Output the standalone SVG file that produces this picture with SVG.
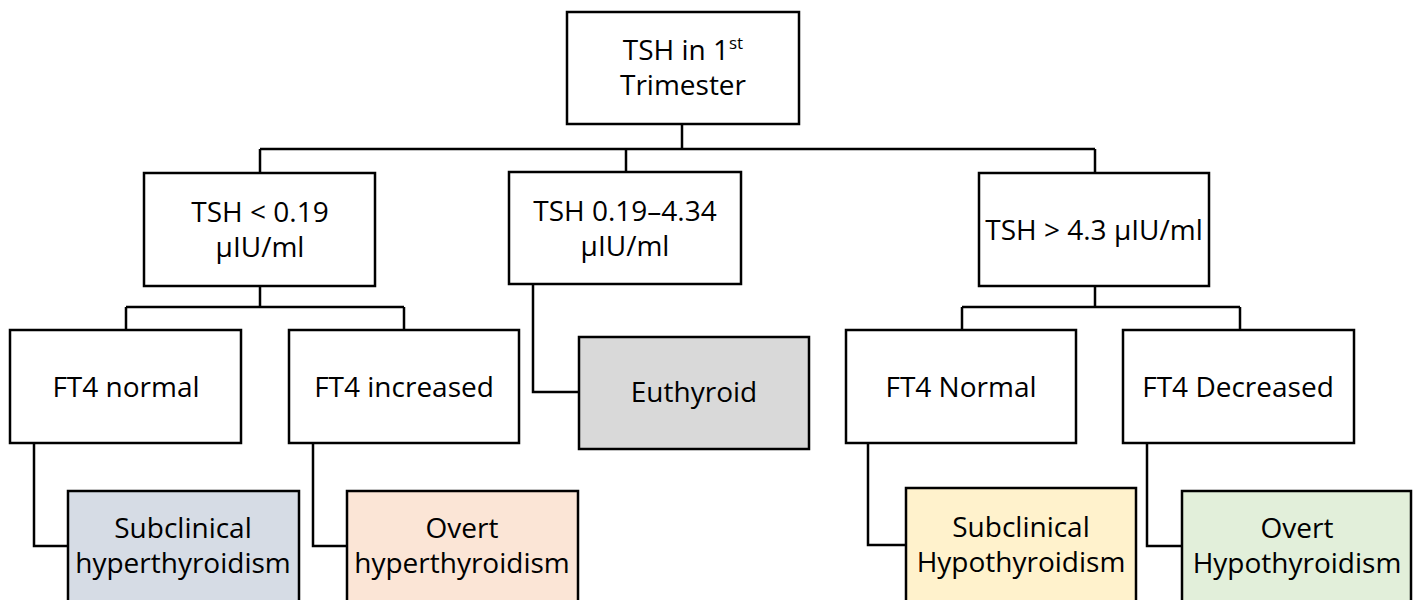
<svg xmlns="http://www.w3.org/2000/svg" width="1416" height="600" viewBox="0 0 1416 600">
<style>
.box{stroke:#000;stroke-width:2.5;fill:#fff}
.t{font-family:"Open Sans","Noto Sans","Liberation Sans",sans-serif;font-size:28px;fill:#000;text-anchor:middle}
.c{stroke:#000;stroke-width:2.5;fill:none}
</style>
<rect width="1416" height="600" fill="#fff"/>
<g id="connectors">
<path class="c" d="M682,124 V149 M260,149 H1095 M260,149 V173 M626,149 V172 M1095,149 V173"/>
<path class="c" d="M260,286 V307 M126,307 H404 M126,307 V330 M404,307 V330"/>
<path class="c" d="M1095,286 V307 M962,307 H1240 M962,307 V330 M1240,307 V330"/>
<path class="c" d="M533,284 V392 H579"/>
<path class="c" d="M34,443 V546 H68"/>
<path class="c" d="M313,443 V546 H347"/>
<path class="c" d="M868,443 V545 H906"/>
<path class="c" d="M1147,443 V546 H1182"/>
</g>
<g id="root"><rect class="box" x="567" y="12" width="232" height="112"/><text class="t" x="683" y="60">TSH in 1<tspan font-size="17" dy="-11">st</tspan></text><text class="t" x="683" y="95">Trimester</text></g>
<g id="low"><rect class="box" x="144" y="173" width="231" height="113"/><text class="t" x="260" y="222">TSH &lt; 0.19</text><text class="t" x="260" y="257">µIU/ml</text></g>
<g id="mid"><rect class="box" x="509" y="172" width="232" height="112"/><text class="t" x="625" y="221">TSH 0.19–4.34</text><text class="t" x="625" y="256">µIU/ml</text></g>
<g id="high"><rect class="box" x="979" y="173" width="230" height="113"/><text class="t" x="1094" y="240">TSH &gt; 4.3 µIU/ml</text></g>
<g id="ft4normal"><rect class="box" x="10" y="330" width="231" height="113"/><text class="t" x="126" y="397">FT4 normal</text></g>
<g id="ft4inc"><rect class="box" x="289" y="330" width="230" height="113"/><text class="t" x="404" y="397">FT4 increased</text></g>
<g id="euthyroid"><rect class="box" x="579" y="337" width="230" height="112" style="fill:#d9d9d9"/><text class="t" x="694" y="402">Euthyroid</text></g>
<g id="ft4Normal"><rect class="box" x="846" y="330" width="230" height="113"/><text class="t" x="961" y="397">FT4 Normal</text></g>
<g id="ft4dec"><rect class="box" x="1123" y="330" width="231" height="113"/><text class="t" x="1238" y="397">FT4 Decreased</text></g>
<g id="subhyper"><rect class="box" x="68" y="491" width="231" height="115" style="fill:#d6dce5"/><text class="t" x="183" y="538">Subclinical</text><text class="t" x="183" y="573">hyperthyroidism</text></g>
<g id="overthyper"><rect class="box" x="347" y="491" width="231" height="115" style="fill:#fbe5d6"/><text class="t" x="462" y="538">Overt</text><text class="t" x="462" y="573">hyperthyroidism</text></g>
<g id="subhypo"><rect class="box" x="906" y="488" width="230" height="118" style="fill:#fff2cc"/><text class="t" x="1021" y="537">Subclinical</text><text class="t" x="1021" y="572">Hypothyroidism</text></g>
<g id="overthypo"><rect class="box" x="1182" y="491" width="229" height="115" style="fill:#e2efda"/><text class="t" x="1297" y="538">Overt</text><text class="t" x="1297" y="573">Hypothyroidism</text></g>
</svg>
